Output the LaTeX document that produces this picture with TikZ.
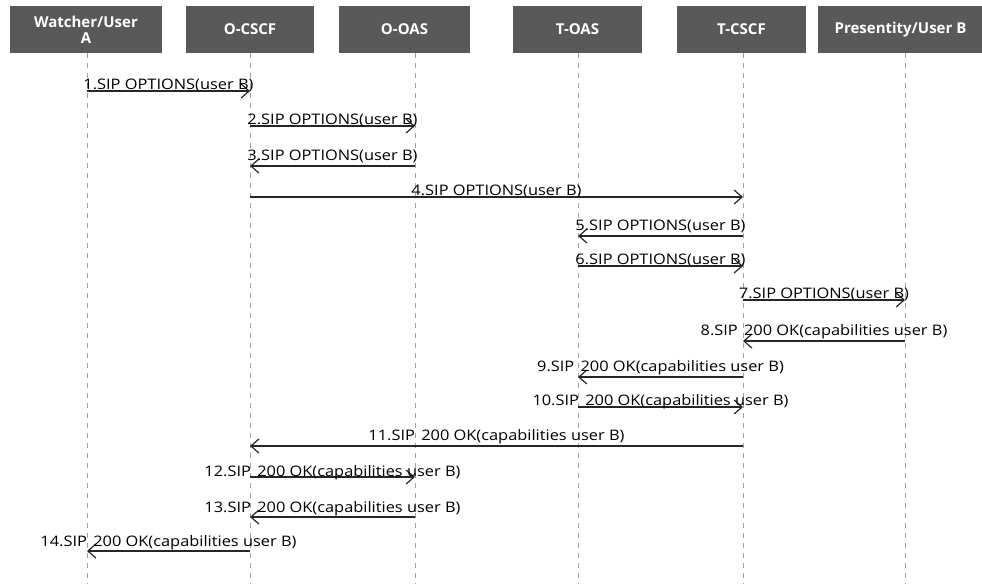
\documentclass[tikz,border=0pt]{standalone}
\usepackage{fontspec}
\setmainfont{Open Sans}
\newfontfamily\msgfont[FakeStretch=1.13]{Open Sans}
\usetikzlibrary{arrows.meta}
\definecolor{headgray}{HTML}{595959}
\definecolor{lifegray}{HTML}{A0A0A0}
\tikzset{
  head/.style={fill=headgray, text=white, font=\bfseries\fontsize{15}{16}\selectfont,
    align=center, minimum height=47pt, inner sep=0pt},
  life/.style={draw=lifegray, dash pattern=on 5pt off 5pt, line width=0.8pt},
  msg/.style={line width=1.2pt, draw=black!85, -{Straight Barb[length=8pt,width=14pt]}},
  lbl/.style={font=\msgfont\fontsize{14.5}{15}\selectfont, anchor=base, inner sep=0pt}
}
\begin{document}
\begin{tikzpicture}[x=1pt,y=-1pt]
\useasboundingbox (0,0) rectangle (982,584);
% heads
\node[head, minimum width=152pt] (ua) at (86,29.5) {Watcher/User\\A};
\node[head, minimum width=128pt] (ocscf) at (250,29.5) {O-CSCF};
\node[head, minimum width=131pt] (ooas) at (404.5,29.5) {O-OAS};
\node[head, minimum width=129pt] (toas) at (577.5,29.5) {T-OAS};
\node[head, minimum width=129pt] (tcscf) at (741.5,29.5) {T-CSCF};
\node[head, minimum width=165pt] (ub) at (900.5,29.5) {Presentity/User B};
% lifelines
\foreach \nm/\lx in {ua/87,ocscf/250,ooas/415,toas/578,tcscf/743,ub/905} {
  \coordinate (\nm-top) at (\lx,53);
  \coordinate (\nm-bot) at (\lx,584);
  \draw[life] (\nm-top) -- (\nm-bot);
}
% messages
\foreach \s/\t/\y/\dy/\txt in {
  ua/ocscf/91/1.5/1.SIP OPTIONS(user B),
  ocscf/ooas/126/1.5/2.SIP OPTIONS(user B),
  ooas/ocscf/166/6/3.SIP OPTIONS(user B),
  ocscf/tcscf/197/2/4.SIP OPTIONS(user B),
  tcscf/toas/236/6/5.SIP OPTIONS(user B),
  toas/tcscf/266/1.5/6.SIP OPTIONS(user B),
  tcscf/ub/300/1.5/7.SIP OPTIONS(user B),
  ub/tcscf/341/6/8.SIP\ \hspace{2pt}200 OK(capabilities user B),
  tcscf/toas/377/6/9.SIP\ \hspace{2pt}200 OK(capabilities user B),
  toas/tcscf/407/1.5/10.SIP\ \hspace{2pt}200 OK(capabilities user B),
  tcscf/ocscf/446/6/11.SIP\ \hspace{2pt}200 OK(capabilities user B),
  ocscf/ooas/477/1/12.SIP\ \hspace{2pt}200 OK(capabilities user B),
  ooas/ocscf/517/5/13.SIP\ \hspace{2pt}200 OK(capabilities user B),
  ocscf/ua/551/4.5/14.SIP\ \hspace{2pt}200 OK(capabilities user B)} {
  \coordinate (m\y-s) at (\s-top |- 0,\y);
  \coordinate (m\y-e) at (\t-top |- 0,\y);
  \draw[msg] (m\y-s) -- (m\y-e)
    node[lbl, midway, yshift=\dy pt] {\txt};
}
\end{tikzpicture}
\end{document}
